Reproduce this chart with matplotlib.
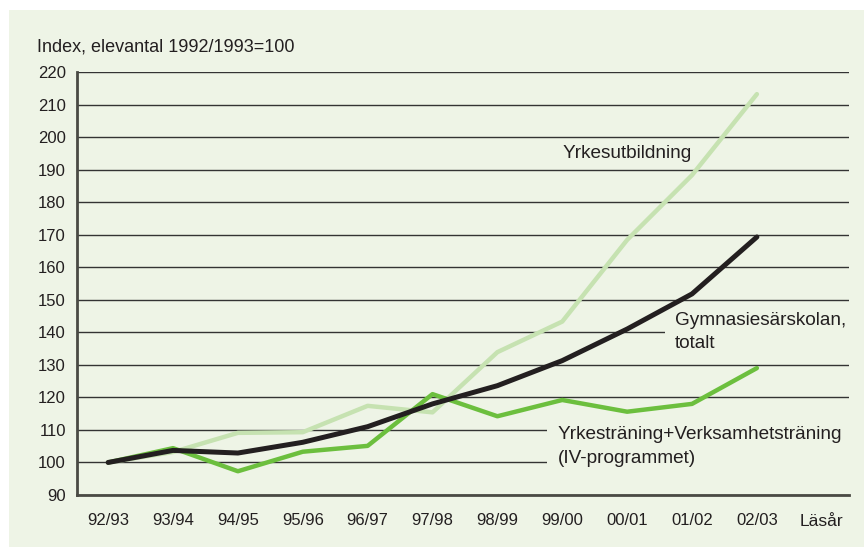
import matplotlib
matplotlib.use("Agg")
import matplotlib.pyplot as plt
from matplotlib.patches import Rectangle

plt.rcParams['font.family'] = ['Liberation Sans', 'DejaVu Sans']

years = ['92/93', '93/94', '94/95', '95/96', '96/97', '97/98',
         '98/99', '99/00', '00/01', '01/02', '02/03']

yrkesutb = [100, 103.2, 109.1, 109.3, 117.4, 115.4, 133.9, 143.3, 168.4, 188.3, 213.2]
totalt = [100, 103.7, 102.9, 106.2, 111.0, 118.0, 123.6, 131.3, 141.0, 151.8, 169.3]
iv_prog = [100, 104.4, 97.3, 103.3, 105.1, 121.0, 114.2, 119.2, 115.6, 118.0, 129.0]

yticks = list(range(90, 230, 10))

bg = '#eef4e6'
W, H = 864, 550

fig = plt.figure(figsize=(8.64, 5.5), dpi=100)
fig.patch.set_facecolor('white')
fig.patches.append(Rectangle((9 / W, 3 / H), 1 - 9 / W, (547 - 10) / H,
                             transform=fig.transFigure, facecolor=bg,
                             edgecolor='none', zorder=-10))

ax = fig.add_axes([77 / W, 1 - 495 / H, (849 - 77) / W, (495 - 72) / H])
ax.set_facecolor(bg)

x = list(range(len(years)))
ax.plot(x, yrkesutb, color='#c6e2b1', lw=3.2, solid_capstyle='round', zorder=3)
ax.plot(x, iv_prog, color='#6cbf3e', lw=3.2, solid_capstyle='round', zorder=4)
ax.plot(x, totalt, color='#231f20', lw=3.6, solid_capstyle='round', zorder=5)

ax.set_xlim(-0.48, 11.42)
ax.set_ylim(90, 220)
ax.set_yticks(yticks)
ax.set_xticks(x)
ax.set_xticklabels(years)
ax.yaxis.grid(True, color='#333333', lw=1.0)
ax.set_axisbelow(True)
for s in ['top', 'right']:
    ax.spines[s].set_visible(False)
for s in ['left', 'bottom']:
    ax.spines[s].set_color('#4a4a44')
    ax.spines[s].set_linewidth(2)
ax.tick_params(length=0, labelsize=12, colors='#231f20')
ax.tick_params(axis='x', pad=13)
ax.tick_params(axis='y', pad=8)

fs = 13.7
fig.text(37 / W, 1 - 47 / H, 'Index, elevantal 1992/1993=100', fontsize=13,
         va='center', ha='left', color='#231f20')
fig.text(800 / W, 1 - 521 / H, 'Läsår', fontsize=12.5, va='center', ha='left',
         color='#231f20')

ax.text(7.01, 195.1, 'Yrkesutbildning', fontsize=fs, va='center', ha='left',
        color='#231f20', zorder=2)
ax.text(8.74, 140.1, 'Gymnasiesärskolan,\ntotalt', fontsize=fs, va='center',
        ha='left', color='#231f20', linespacing=1.5,
        bbox=dict(facecolor=bg, edgecolor='none', pad=7), zorder=2)
ax.text(6.93, 104.8, 'Yrkesträning+Verksamhetsträning\n(IV-programmet)',
        fontsize=fs, va='center', ha='left', color='#231f20', linespacing=1.55,
        bbox=dict(facecolor=bg, edgecolor='none', pad=8), zorder=2)

fig.savefig('out.png', dpi=100, facecolor=fig.get_facecolor())
